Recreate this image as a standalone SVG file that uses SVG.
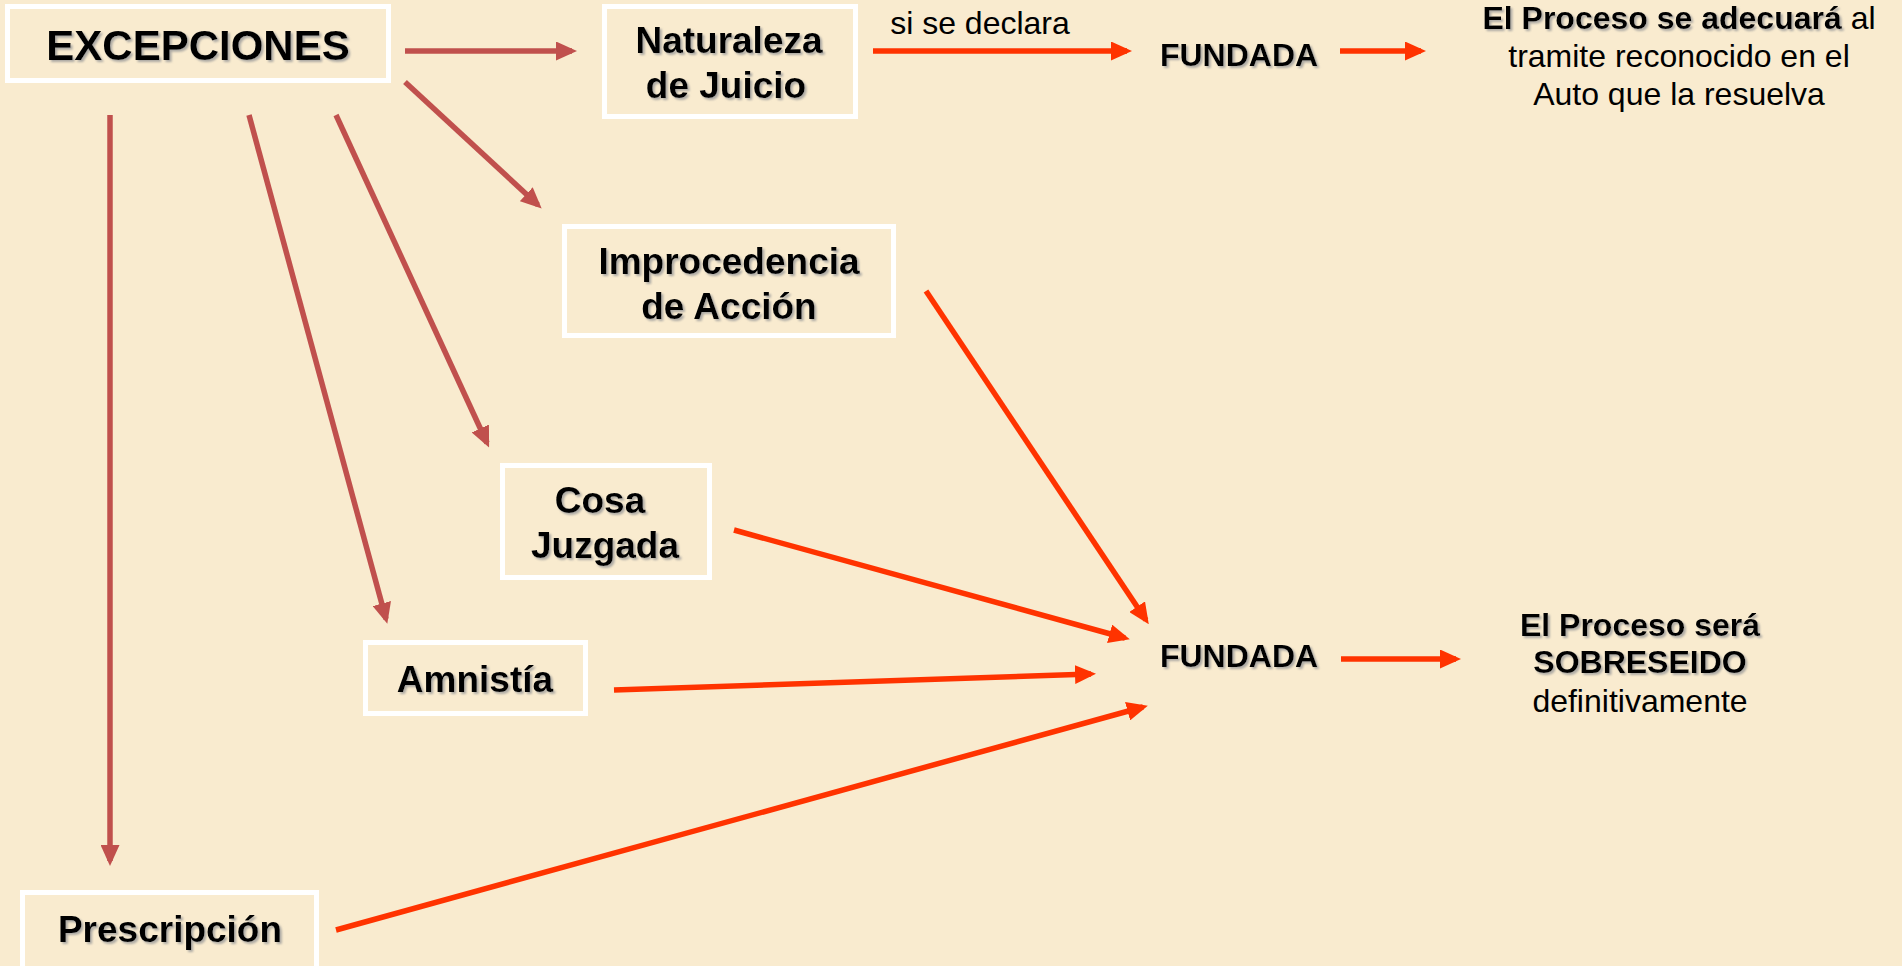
<svg xmlns="http://www.w3.org/2000/svg" width="1902" height="966" viewBox="0 0 1902 966">
<style>
.bg{fill:#F9EBCF}
.box{fill:#F9EBCF;stroke:#FFFFFF;stroke-width:5}
.t{font-family:"Liberation Sans",Arial,sans-serif;fill:#000;text-anchor:middle}
.b{font-weight:bold}
.n{font-size:37px}
.s{font-size:32px}
.sh{filter:url(#shadow)}
.c1{stroke:#C0504D;stroke-width:5.5;fill:none}
.c2{stroke:#FF3300;stroke-width:5.5;fill:none}
</style>
<defs>
<filter id="shadow" x="-10%" y="-20%" width="120%" height="150%">
<feDropShadow dx="2" dy="2" stdDeviation="0.8" flood-color="#999999" flood-opacity="0.8"/>
</filter>
<marker id="a1" viewBox="0 0 21 19" markerWidth="21" markerHeight="19" refX="16" refY="9.5" orient="auto" markerUnits="userSpaceOnUse">
<path d="M0,0 L21,9.5 L0,19 z" fill="#C0504D"/>
</marker>
<marker id="a2" viewBox="0 0 21 19" markerWidth="21" markerHeight="19" refX="16" refY="9.5" orient="auto" markerUnits="userSpaceOnUse">
<path d="M0,0 L21,9.5 L0,19 z" fill="#FF3300"/>
</marker>
</defs>
<rect class="bg" x="0" y="0" width="1902" height="966"/>

<g id="connectors">
<line class="c1" x1="405" y1="51" x2="572" y2="51" marker-end="url(#a1)"/>
<line class="c1" x1="405" y1="82" x2="538" y2="205" marker-end="url(#a1)"/>
<line class="c1" x1="336" y1="115" x2="487" y2="443" marker-end="url(#a1)"/>
<line class="c1" x1="249" y1="115" x2="386" y2="619" marker-end="url(#a1)"/>
<line class="c1" x1="110" y1="115" x2="110" y2="861" marker-end="url(#a1)"/>
<line class="c2" x1="873" y1="51" x2="1127" y2="51" marker-end="url(#a2)"/>
<line class="c2" x1="1340" y1="51" x2="1421" y2="51" marker-end="url(#a2)"/>
<line class="c2" x1="926" y1="291" x2="1146" y2="620" marker-end="url(#a2)"/>
<line class="c2" x1="734" y1="530" x2="1125" y2="638" marker-end="url(#a2)"/>
<line class="c2" x1="614" y1="690" x2="1091" y2="674" marker-end="url(#a2)"/>
<line class="c2" x1="336" y1="930" x2="1143" y2="707" marker-end="url(#a2)"/>
<line class="c2" x1="1341" y1="659" x2="1456" y2="659" marker-end="url(#a2)"/>
</g>

<g id="excepciones">
<rect class="box" x="7.5" y="6.5" width="381" height="74"/>
<text class="t b sh" x="198" y="60" font-size="42">EXCEPCIONES</text>
</g>

<g id="naturaleza">
<rect class="box" x="604.5" y="6.5" width="251" height="110"/>
<text class="t b n sh" x="729" y="53">Naturaleza</text>
<text class="t b n sh" x="726" y="98">de Juicio</text>
</g>

<g id="si-se-declara">
<text class="t s" x="980" y="34">si se declara</text>
</g>

<g id="fundada-1">
<text class="t b s sh" x="1239" y="66">FUNDADA</text>
</g>

<g id="resultado-1">
<text class="t s" x="1679" y="29"><tspan class="b sh">El Proceso se adecuará</tspan> al</text>
<text class="t s" x="1679" y="67">tramite reconocido en el</text>
<text class="t s" x="1679" y="105">Auto que la resuelva</text>
</g>

<g id="improcedencia">
<rect class="box" x="564.5" y="226.5" width="329" height="109"/>
<text class="t b n sh" x="729" y="274">Improcedencia</text>
<text class="t b n sh" x="729" y="319">de Acción</text>
</g>

<g id="cosa-juzgada">
<rect class="box" x="502.5" y="465.5" width="207" height="112"/>
<text class="t b n sh" x="600" y="513">Cosa</text>
<text class="t b n sh" x="605" y="558">Juzgada</text>
</g>

<g id="amnistia">
<rect class="box" x="365.5" y="642.5" width="220" height="71"/>
<text class="t b n sh" x="475" y="692">Amnistía</text>
</g>

<g id="prescripcion">
<rect class="box" x="22.5" y="892.5" width="294" height="80"/>
<text class="t b n sh" x="170" y="942">Prescripción</text>
</g>

<g id="fundada-2">
<text class="t b s sh" x="1239" y="667">FUNDADA</text>
</g>

<g id="resultado-2">
<text class="t b s sh" x="1640" y="636">El Proceso será</text>
<text class="t b s sh" x="1640" y="673">SOBRESEIDO</text>
<text class="t s" x="1640" y="712">definitivamente</text>
</g>
</svg>
